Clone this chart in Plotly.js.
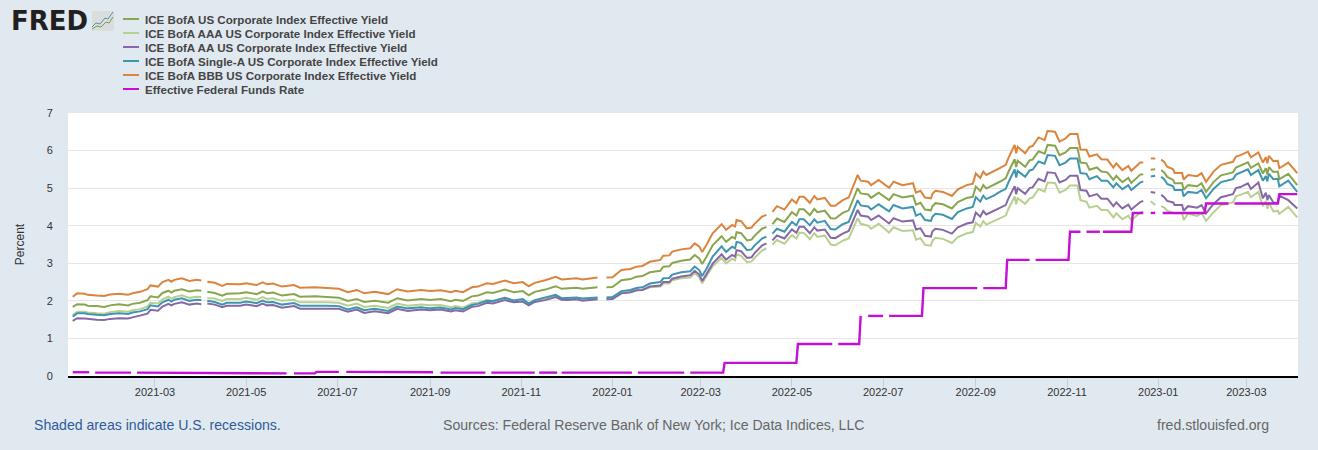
<!DOCTYPE html>
<html><head><meta charset="utf-8"><script src="https://cdn.plot.ly/plotly-3.0.1.min.js"></script>
<style>html,body{margin:0;padding:0;background:#e1e9f0}#c{width:1318px;height:450px}</style></head>
<body><div id="c"></div>
<script>
const dates = [
'2021-01-05','2021-01-08','2021-01-13','2021-01-15','2021-01-21','2021-01-26','2021-01-30','2021-02-05','2021-02-11','2021-02-14',
'2021-02-19','2021-02-24','2021-02-26','2021-03-03','2021-03-06','2021-03-10','2021-03-12','2021-03-14','2021-03-19','2021-03-24',
'2021-03-29','2021-04-01','2021-04-03','2021-04-05','2021-04-10','2021-04-15','2021-04-18','2021-04-27','2021-05-01','2021-05-08',
'2021-05-12','2021-05-15','2021-05-19','2021-05-25','2021-06-02','2021-06-06','2021-06-16','2021-06-24','2021-07-02','2021-07-08',
'2021-07-14','2021-07-19','2021-07-26','2021-08-04','2021-08-10','2021-08-17','2021-08-26','2021-09-01','2021-09-08','2021-09-15',
'2021-09-18','2021-09-23','2021-09-29','2021-10-03','2021-10-09','2021-10-13','2021-10-21','2021-10-27','2021-11-02','2021-11-06',
'2021-11-10','2021-11-17','2021-11-24','2021-11-28','2021-12-02','2021-12-08','2021-12-12','2021-12-22','2021-12-25','2021-12-28',
'2022-01-01','2022-01-07','2022-01-13','2022-01-17','2022-01-21','2022-01-26','2022-02-02','2022-02-04','2022-02-08','2022-02-10',
'2022-02-16','2022-02-22','2022-02-25','2022-02-28','2022-03-02','2022-03-05','2022-03-09','2022-03-15','2022-03-18','2022-03-22',
'2022-03-24','2022-03-25','2022-03-28','2022-04-01','2022-04-04','2022-04-06','2022-04-11','2022-04-14','2022-04-16','2022-04-18',
'2022-04-21','2022-04-26','2022-05-01','2022-05-04','2022-05-06','2022-05-09','2022-05-13','2022-05-16','2022-05-18','2022-05-23',
'2022-05-27','2022-05-30','2022-06-04','2022-06-08','2022-06-11','2022-06-14','2022-06-16','2022-06-21','2022-06-23','2022-06-28',
'2022-07-05','2022-07-08','2022-07-14','2022-07-21','2022-07-23','2022-07-26','2022-07-29','2022-08-02','2022-08-03','2022-08-05',
'2022-08-10','2022-08-16','2022-08-20','2022-08-26','2022-08-30','2022-09-01','2022-09-04','2022-09-06','2022-09-08','2022-09-13',
'2022-09-17','2022-09-21','2022-09-23','2022-09-27','2022-09-28','2022-09-29','2022-10-04','2022-10-07','2022-10-09','2022-10-13',
'2022-10-17','2022-10-19','2022-10-24','2022-10-27','2022-10-31','2022-11-03','2022-11-08','2022-11-10','2022-11-14','2022-11-16',
'2022-11-21','2022-11-24','2022-11-28','2022-12-02','2022-12-04','2022-12-08','2022-12-12','2022-12-14','2022-12-20','2022-12-22',
'2022-12-24','2022-12-27','2022-12-30','2023-01-01','2023-01-03','2023-01-05','2023-01-07','2023-01-11','2023-01-12','2023-01-17',
'2023-01-18','2023-01-21','2023-01-27','2023-01-30','2023-02-02','2023-02-07','2023-02-12','2023-02-20','2023-02-22','2023-02-25',
'2023-03-02','2023-03-04','2023-03-09','2023-03-12','2023-03-14','2023-03-15','2023-03-16','2023-03-19','2023-03-22','2023-03-23',
'2023-03-29','2023-04-04'];
const usCorp = [
1.84,1.91,1.90,1.87,1.86,1.84,1.88,1.91,1.88,1.92,
1.95,2.02,2.12,2.09,2.21,2.27,2.22,2.27,2.31,2.25,
2.28,2.27,null,2.24,2.21,2.14,2.19,2.20,2.23,2.18,
2.25,2.20,2.22,2.14,2.18,2.11,2.12,2.10,2.08,2.00,
2.05,1.97,2.00,1.95,2.07,2.01,2.05,2.02,2.05,1.99,
2.03,2.00,2.12,2.14,2.23,2.21,2.30,2.23,2.26,2.15,
2.24,2.30,2.39,2.32,2.33,2.35,2.32,2.36,null,2.36,
2.37,2.55,2.58,2.64,2.66,2.76,2.80,2.91,2.92,3.01,
3.07,3.10,3.22,3.13,2.98,3.18,3.48,3.72,3.57,3.70,
3.66,3.83,3.80,3.61,3.63,3.73,3.92,3.97,null,4.04,
4.19,4.10,4.36,4.27,4.44,4.44,4.28,4.45,4.36,4.40,
4.20,4.19,4.34,4.41,4.69,5.00,4.86,4.83,4.74,4.88,
4.68,4.84,4.75,4.80,4.56,4.61,4.43,4.41,4.52,4.60,
4.57,4.46,4.63,4.74,4.77,5.04,4.92,5.08,4.99,5.08,
5.17,5.26,5.45,5.77,5.56,5.73,5.57,5.74,5.76,5.98,
5.92,6.15,6.13,5.88,5.95,6.07,6.07,5.68,5.66,5.49,
5.55,5.44,5.42,5.22,5.33,5.16,5.27,5.14,5.36,5.37,
null,5.49,5.50,null,5.48,5.42,5.30,5.22,5.13,5.13,
4.96,5.08,5.05,5.13,4.90,5.16,5.34,5.42,5.55,5.60,
5.69,5.54,5.66,5.39,5.53,5.36,5.56,5.43,5.44,5.24,
5.38,5.08];
const aaa = [
1.62,1.71,1.71,1.69,1.67,1.66,1.70,1.73,1.71,1.75,
1.78,1.85,1.95,1.93,2.04,2.11,2.06,2.10,2.15,2.08,
2.11,2.10,null,2.07,2.06,2.00,2.05,2.05,2.08,2.03,
2.10,2.05,2.07,2.00,2.03,1.96,1.97,1.96,1.95,1.87,
1.93,1.84,1.87,1.81,1.93,1.87,1.90,1.88,1.89,1.83,
1.86,1.82,1.93,1.95,2.02,2.00,2.08,2.00,2.03,1.91,
1.99,2.05,2.13,2.05,2.04,2.06,2.02,2.06,null,2.06,
2.07,2.21,2.23,2.28,2.29,2.36,2.38,2.46,2.46,2.55,
2.60,2.62,2.74,2.63,2.47,2.66,2.92,3.14,3.00,3.12,
3.08,3.24,3.20,3.03,3.05,3.14,3.34,3.40,null,3.50,
3.62,3.52,3.75,3.66,3.82,3.81,3.64,3.80,3.70,3.74,
3.50,3.48,3.60,3.66,3.91,4.20,4.05,4.00,3.92,4.05,
3.82,3.96,3.86,3.88,3.63,3.67,3.49,3.47,3.60,3.68,
3.65,3.54,3.70,3.80,3.83,4.08,3.98,4.12,4.03,4.12,
4.20,4.27,4.46,4.78,4.57,4.73,4.58,4.73,4.75,4.98,
4.91,5.15,5.14,4.88,4.95,5.07,5.07,4.68,4.64,4.48,
4.53,4.42,4.42,4.22,4.33,4.17,4.27,4.14,4.35,4.38,
null,4.65,4.55,null,4.52,4.48,4.40,4.35,4.33,4.33,
4.15,4.32,4.26,4.33,4.13,4.36,4.55,4.62,4.78,4.82,
4.90,4.76,4.90,4.52,4.66,4.45,4.62,4.38,4.40,4.32,
4.50,4.22];
const aa = [
1.47,1.54,1.53,1.52,1.50,1.49,1.52,1.54,1.53,1.56,
1.60,1.66,1.76,1.74,1.85,1.92,1.88,1.92,1.96,1.90,
1.93,1.91,null,1.93,1.90,1.83,1.87,1.87,1.90,1.86,
1.93,1.88,1.89,1.82,1.86,1.79,1.80,1.79,1.79,1.71,
1.77,1.68,1.72,1.67,1.79,1.73,1.77,1.75,1.77,1.72,
1.75,1.72,1.84,1.86,1.95,1.93,2.02,1.96,1.98,1.88,
1.97,2.02,2.10,2.03,2.02,2.04,2.00,2.04,null,2.04,
2.05,2.20,2.23,2.28,2.29,2.38,2.41,2.50,2.50,2.59,
2.65,2.68,2.80,2.70,2.53,2.72,2.99,3.24,3.10,3.22,
3.18,3.35,3.32,3.14,3.16,3.27,3.47,3.53,null,3.61,
3.74,3.66,3.90,3.81,3.97,3.97,3.80,3.96,3.87,3.90,
3.68,3.67,3.79,3.86,4.12,4.42,4.27,4.24,4.15,4.27,
4.06,4.20,4.11,4.14,3.90,3.93,3.73,3.71,3.85,3.92,
3.89,3.79,3.96,4.06,4.09,4.35,4.24,4.39,4.30,4.39,
4.47,4.55,4.74,5.05,4.84,5.00,4.85,5.00,5.02,5.25,
5.18,5.42,5.40,5.15,5.22,5.33,5.33,4.95,4.93,4.78,
4.84,4.72,4.72,4.52,4.62,4.46,4.56,4.43,4.63,4.66,
null,4.90,4.88,null,4.82,4.76,4.66,4.62,4.55,4.55,
4.40,4.52,4.48,4.55,4.33,4.58,4.76,4.84,5.00,5.03,
5.13,4.98,5.15,4.73,4.88,4.68,4.82,4.62,4.61,4.80,
4.68,4.46];
const singleA = [
1.58,1.67,1.67,1.65,1.63,1.62,1.65,1.67,1.65,1.69,
1.72,1.78,1.88,1.85,1.96,2.03,1.98,2.03,2.07,2.00,
2.03,2.02,null,2.00,1.97,1.90,1.95,1.95,1.98,1.94,
2.01,1.96,1.97,1.90,1.94,1.87,1.88,1.87,1.86,1.77,
1.83,1.75,1.79,1.73,1.85,1.80,1.83,1.80,1.82,1.77,
1.81,1.78,1.89,1.92,2.00,1.99,2.08,2.01,2.05,1.93,
2.02,2.08,2.16,2.07,2.07,2.09,2.06,2.09,null,2.09,
2.10,2.26,2.29,2.34,2.36,2.46,2.50,2.60,2.61,2.70,
2.76,2.79,2.91,2.82,2.66,2.86,3.18,3.45,3.30,3.44,
3.40,3.57,3.54,3.35,3.37,3.47,3.66,3.71,null,3.79,
3.92,3.84,4.10,4.01,4.17,4.17,4.01,4.17,4.08,4.13,
3.91,3.90,4.04,4.10,4.38,4.68,4.54,4.51,4.43,4.57,
4.38,4.55,4.46,4.50,4.27,4.32,4.15,4.13,4.24,4.32,
4.29,4.18,4.36,4.46,4.50,4.76,4.64,4.80,4.71,4.80,
4.90,4.98,5.17,5.50,5.28,5.46,5.30,5.47,5.49,5.71,
5.65,5.88,5.86,5.61,5.68,5.79,5.79,5.40,5.38,5.24,
5.32,5.20,5.20,5.02,5.13,4.97,5.08,4.95,5.15,5.18,
null,5.31,5.33,null,5.30,5.24,5.11,5.05,4.95,4.95,
4.78,4.90,4.87,4.95,4.73,4.98,5.16,5.24,5.36,5.41,
5.50,5.35,5.48,5.20,5.32,5.18,5.38,5.24,5.25,5.05,
5.20,4.90];
const bbb = [
2.11,2.20,2.19,2.16,2.14,2.13,2.17,2.19,2.16,2.20,
2.24,2.31,2.41,2.38,2.50,2.56,2.51,2.56,2.60,2.53,
2.56,2.54,null,2.51,2.48,2.40,2.45,2.44,2.47,2.42,
2.49,2.44,2.46,2.38,2.42,2.35,2.36,2.34,2.32,2.23,
2.29,2.20,2.24,2.18,2.31,2.25,2.29,2.26,2.28,2.23,
2.27,2.23,2.36,2.38,2.47,2.45,2.54,2.47,2.50,2.39,
2.48,2.55,2.64,2.57,2.58,2.60,2.57,2.62,null,2.62,
2.63,2.82,2.85,2.91,2.93,3.04,3.09,3.20,3.21,3.31,
3.37,3.40,3.53,3.45,3.30,3.50,3.80,4.04,3.89,4.02,
3.98,4.15,4.12,3.93,3.95,4.05,4.24,4.29,null,4.37,
4.52,4.43,4.70,4.60,4.77,4.77,4.61,4.79,4.70,4.74,
4.53,4.53,4.68,4.75,5.04,5.35,5.20,5.17,5.08,5.22,
5.01,5.17,5.08,5.13,4.88,4.93,4.75,4.73,4.85,4.93,
4.90,4.79,4.97,5.08,5.12,5.39,5.27,5.44,5.35,5.44,
5.53,5.62,5.82,6.15,5.93,6.10,5.93,6.10,6.12,6.35,
6.28,6.52,6.50,6.24,6.32,6.44,6.44,6.03,6.02,5.84,
5.90,5.77,5.76,5.55,5.66,5.48,5.59,5.46,5.68,5.68,
null,5.79,5.79,null,5.76,5.70,5.57,5.50,5.40,5.40,
5.23,5.35,5.32,5.40,5.17,5.44,5.62,5.70,5.84,5.88,
5.97,5.82,5.95,5.68,5.82,5.66,5.86,5.72,5.73,5.53,
5.68,5.40];
const ffDates = [
'2021-01-05','2021-01-16','2021-01-18','2021-01-20','2021-02-13','2021-02-15','2021-02-17','2021-04-01','2021-05-28','2021-05-30',
'2021-06-02','2021-06-16','2021-06-17','2021-07-02','2021-07-04','2021-07-07','2021-09-03','2021-09-06','2021-09-08','2021-10-08',
'2021-10-10','2021-10-12','2021-11-10','2021-11-11','2021-11-13','2021-11-25','2021-11-26','2021-11-28','2022-01-14','2022-01-16',
'2022-01-18','2022-02-18','2022-02-20','2022-02-22','2022-03-16','2022-03-17','2022-05-04','2022-05-05','2022-05-28','2022-05-30',
'2022-06-01','2022-06-15','2022-06-16','2022-06-18','2022-06-21','2022-07-01','2022-07-03','2022-07-05','2022-07-27','2022-07-28',
'2022-09-02','2022-09-04','2022-09-06','2022-09-21','2022-09-22','2022-10-07','2022-10-09','2022-10-11','2022-11-02','2022-11-03',
'2022-11-10','2022-11-12','2022-11-14','2022-11-23','2022-11-24','2022-11-25','2022-12-14','2022-12-15','2022-12-22','2022-12-24',
'2022-12-27','2022-12-30','2023-01-02','2023-01-04','2023-02-01','2023-02-02','2023-02-17','2023-02-19','2023-02-21','2023-03-22',
'2023-03-23','2023-04-04'];
const ffRate = [
0.10,0.10,null,0.09,0.09,null,0.09,0.08,0.07,null,
0.07,0.07,0.11,0.11,null,0.11,0.10,null,0.09,0.09,
null,0.09,0.09,null,0.09,0.09,null,0.09,0.09,null,
0.09,0.09,null,0.09,0.09,0.35,0.35,0.85,0.85,null,
0.85,0.85,1.60,null,1.60,1.60,null,1.60,1.60,2.34,
2.34,null,2.34,2.34,3.09,3.09,null,3.09,3.09,3.84,
3.84,null,3.84,3.84,null,3.84,3.84,4.34,4.34,null,
4.34,4.34,null,4.34,4.34,4.59,4.59,null,4.59,4.59,
4.84,4.84];
const seriesNames = ['ICE BofA US Corporate Index Effective Yield','ICE BofA AAA US Corporate Index Effective Yield','ICE BofA AA US Corporate Index Effective Yield','ICE BofA Single-A US Corporate Index Effective Yield','ICE BofA BBB US Corporate Index Effective Yield','Effective Federal Funds Rate'];
const seriesColors = ['#89a54e','#b8d08f','#8568a5','#3d96ae','#db843d','#c30fd6'];
const seriesValues = [usCorp,aaa,aa,singleA,bbb,ffRate];
const yTicks = [0,1,2,3,4,5,6,7];

const L=68,R=1298,T=113,B=376;
const px=x=>(x-L)/(R-L), py=y=>(B-y)/(B-T);
const traces = seriesValues.map((v,i)=>({type:'scatter',mode:'lines',x:i===5?ffDates:dates,y:v,name:seriesNames[i],
  line:{color:seriesColors[i],width:i===5?2.4:2,shape:'linear'},connectgaps:false,hoverinfo:'skip'}));
const ann=[], shp=[];
seriesNames.forEach((n,i)=>{
  const yy=19+i*14;
  shp.push({type:'line',xref:'paper',yref:'paper',x0:px(123),x1:px(139),y0:py(yy),y1:py(yy),line:{color:seriesColors[i],width:2}});
  ann.push({xref:'paper',yref:'paper',x:px(143.5),y:py(yy),xanchor:'left',yanchor:'middle',showarrow:false,borderpad:0,
    text:'<b>'+n+'</b>',font:{family:'Liberation Sans',size:11.6,color:'#444'}});
});
ann.push({xref:'paper',yref:'paper',x:px(10),y:py(20.5),xanchor:'left',yanchor:'middle',showarrow:false,borderpad:0,text:'<b>FRED</b>',font:{family:'DejaVu Sans',size:26,color:'#231f20'}});
const foot=[['Shaded areas indicate U.S. recessions.',33,'left','#2f5a9a'],['Sources: Federal Reserve Bank of New York; Ice Data Indices, LLC',653,'center','#666'],['fred.stlouisfed.org',1270,'right','#666']];
foot.forEach(f=>ann.push({xref:'paper',yref:'paper',x:px(f[1]),y:py(425),xanchor:f[2],yanchor:'middle',showarrow:false,borderpad:0,text:f[0],font:{family:'Liberation Sans',size:14.1,color:f[3]}}));
shp.push({type:'rect',xref:'paper',yref:'paper',x0:px(92),x1:px(114),y0:py(31),y1:py(11),line:{width:0},fillcolor:'#d9dedd'});
const iconPath=(pts)=>'M'+pts.map(p=>px(p[0])+','+py(p[1])).join('L');
shp.push({type:'path',xref:'paper',yref:'paper',path:iconPath([[92,27],[96,23],[100,24],[105,18],[108,19],[113,12]]),line:{color:'#5b8fb0',width:1}});
shp.push({type:'path',xref:'paper',yref:'paper',path:iconPath([[92,29],[97,26],[101,27],[106,22],[109,23],[113,17]]),line:{color:'#7d9b4f',width:1}});
const layout={width:1318,height:450,paper_bgcolor:'#e1e9f0',plot_bgcolor:'#ffffff',showlegend:false,
 margin:{l:L,r:1318-R,t:T,b:450-B,pad:0},
 font:{family:'Liberation Sans',color:'#333',size:11},
 xaxis:{type:'date',range:['2021-01-01 20:00','2023-04-04 12:00'],tick0:'2021-03-01',dtick:'M2',tickformat:'%Y-%m',ticks:'outside',ticklen:9,tickwidth:1,tickcolor:'#c0d0e0',ticklabelstandoff:-4,showgrid:false,zeroline:false,showline:true,linecolor:'#000',linewidth:2,tickfont:{size:11,color:'#333'},automargin:false},
 yaxis:{range:[0,7],tickvals:yTicks,ticktext:yTicks.map(String),ticks:'outside',ticklen:12,tickcolor:'rgba(0,0,0,0)',showgrid:true,gridcolor:'#e6e6e6',gridwidth:1,zeroline:false,showline:false,tickfont:{size:11,color:'#333'},
   title:{text:'Percent',font:{size:12,color:'#333'},standoff:19},automargin:false},
 annotations:ann,shapes:shp};
Plotly.newPlot('c',traces,layout,{staticPlot:true,displayModeBar:false});
</script></body></html>
